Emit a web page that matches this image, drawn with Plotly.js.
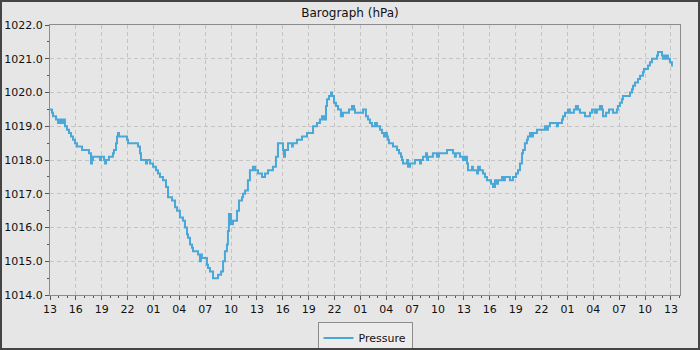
<!DOCTYPE html>
<html>
<head>
<meta charset="utf-8">
<script src="https://cdn.plot.ly/plotly-3.0.1.min.js"></script>
<style>
  html, body { margin: 0; padding: 0; background: #e6e6e6; }
  #frame { width: 700px; height: 350px; box-sizing: border-box; border: 2px solid #444444; background: #e6e6e6; }
  #chart { width: 696px; height: 346px; }
</style>
</head>
<body>
<div id="frame"><div id="chart"></div></div>
<script>
// Visible time window
const windowStart = '2024-01-01 13:00:00';
const windowEnd = '2024-01-04 14:03:00';

// Minutes after 2024-01-01 13:00 at which the reading changes
const minutes = [
  0, 14, 21, 42, 56, 70, 83, 90, 104, 118, 132, 146, 160, 174, 188, 223, 271, 285, 292, 299,
  348, 355, 376, 383, 390, 410, 438, 445, 459, 466, 473, 480, 536, 543, 612, 626, 633, 668, 675, 696,
  717, 737, 751, 765, 786, 807, 821, 849, 870, 884, 904, 925, 939, 953, 960, 974, 988, 995, 1030, 1043,
  1050, 1057, 1092, 1099, 1113, 1134, 1169, 1190, 1204, 1217, 1231, 1238, 1245, 1259, 1273, 1301, 1315, 1336, 1343, 1357,
  1377, 1391, 1412, 1426, 1447, 1475, 1496, 1517, 1551, 1572, 1586, 1621, 1628, 1635, 1656, 1684, 1690, 1718, 1753, 1788,
  1830, 1857, 1878, 1892, 1906, 1920, 1927, 1941, 1955, 1962, 1976, 1990, 2004, 2024, 2038, 2080, 2101, 2115, 2122, 2178,
  2198, 2212, 2226, 2240, 2261, 2275, 2296, 2310, 2324, 2338, 2344, 2351, 2358, 2386, 2414, 2428, 2442, 2449, 2456, 2484,
  2491, 2505, 2539, 2574, 2581, 2595, 2616, 2623, 2630, 2664, 2692, 2706, 2762, 2804, 2817, 2824, 2852, 2873, 2887, 2901,
  2908, 2936, 2943, 2971, 2978, 2991, 3012, 3026, 3040, 3068, 3082, 3096, 3110, 3117, 3145, 3151, 3165, 3200, 3221, 3242,
  3256, 3270, 3284, 3291, 3304, 3318, 3325, 3339, 3346, 3360, 3388, 3444, 3458, 3464, 3478, 3527, 3534, 3562, 3569, 3583,
  3604, 3617, 3645, 3659, 3673, 3687, 3722, 3757, 3771, 3791, 3805, 3826, 3840, 3847, 3868, 3889, 3917, 3944, 3951, 3965,
  3979, 3986, 4035, 4049, 4056, 4070, 4091, 4105, 4125, 4132, 4160, 4174, 4188, 4223, 4230, 4258, 4265, 4278, 4285, 4292,
  4299, 4313, 4327, 4334
];

// Pressure readings (hPa)
const pressure = [
  1019.5, 1019.4, 1019.3, 1019.2, 1019.1, 1019.2, 1019.1, 1019.2, 1019.0, 1018.9, 1018.8, 1018.7, 1018.6, 1018.5, 1018.4, 1018.3, 1018.2, 1017.9, 1018.0, 1018.1,
  1018.0, 1018.1, 1018.0, 1017.9, 1018.0, 1018.1, 1018.2, 1018.3, 1018.5, 1018.7, 1018.8, 1018.7, 1018.6, 1018.5, 1018.4, 1018.2, 1018.0, 1017.9, 1018.0, 1017.9,
  1017.8, 1017.7, 1017.6, 1017.5, 1017.4, 1017.2, 1016.9, 1016.8, 1016.6, 1016.5, 1016.3, 1016.2, 1016.0, 1015.8, 1015.7, 1015.5, 1015.4, 1015.3, 1015.2, 1015.0,
  1015.2, 1015.1, 1014.9, 1014.8, 1014.7, 1014.5, 1014.6, 1014.7, 1015.0, 1015.3, 1015.5, 1015.9, 1016.4, 1016.1, 1016.2, 1016.5, 1016.8, 1016.9, 1017.0, 1017.1,
  1017.4, 1017.7, 1017.8, 1017.7, 1017.6, 1017.5, 1017.6, 1017.7, 1017.8, 1018.1, 1018.5, 1018.3, 1018.1, 1018.3, 1018.5, 1018.4, 1018.5, 1018.6, 1018.7, 1018.8,
  1019.0, 1019.1, 1019.2, 1019.3, 1019.2, 1019.6, 1019.8, 1019.9, 1020.0, 1019.9, 1019.7, 1019.6, 1019.5, 1019.3, 1019.4, 1019.5, 1019.6, 1019.5, 1019.4, 1019.5,
  1019.3, 1019.2, 1019.1, 1019.0, 1019.1, 1019.0, 1018.9, 1018.8, 1018.7, 1018.8, 1018.7, 1018.6, 1018.5, 1018.4, 1018.3, 1018.2, 1018.1, 1018.0, 1017.9, 1018.0,
  1017.8, 1017.9, 1018.0, 1017.9, 1018.0, 1018.1, 1018.2, 1018.0, 1018.1, 1018.2, 1018.1, 1018.2, 1018.3, 1018.2, 1018.1, 1018.2, 1018.1, 1018.0, 1018.1, 1017.9,
  1017.7, 1017.8, 1017.7, 1017.6, 1017.8, 1017.7, 1017.6, 1017.5, 1017.4, 1017.3, 1017.2, 1017.4, 1017.3, 1017.4, 1017.5, 1017.4, 1017.5, 1017.4, 1017.5, 1017.6,
  1017.7, 1017.9, 1018.2, 1018.3, 1018.5, 1018.6, 1018.7, 1018.8, 1018.7, 1018.8, 1018.9, 1019.0, 1018.9, 1019.0, 1019.1, 1019.0, 1019.1, 1019.2, 1019.3, 1019.4,
  1019.5, 1019.4, 1019.5, 1019.6, 1019.5, 1019.4, 1019.3, 1019.4, 1019.5, 1019.4, 1019.5, 1019.6, 1019.5, 1019.3, 1019.4, 1019.5, 1019.4, 1019.5, 1019.6, 1019.7,
  1019.8, 1019.9, 1020.0, 1020.1, 1020.2, 1020.3, 1020.4, 1020.5, 1020.6, 1020.7, 1020.8, 1020.9, 1021.0, 1021.1, 1021.2, 1021.1, 1021.0, 1021.1, 1021.0, 1021.1,
  1021.0, 1020.9, 1020.8, 1020.8
];

const seriesName = 'Pressure';
const chartTitle = 'Barograph (hPa)';

// Convert minute offsets to date strings for the date axis
function pad(n) { return (n < 10 ? '0' : '') + n; }
function toDateString(offsetMin) {
  const base = Date.UTC(2024, 0, 1, 13, 0, 0);
  const d = new Date(base + offsetMin * 60000);
  return d.getUTCFullYear() + '-' + pad(d.getUTCMonth() + 1) + '-' + pad(d.getUTCDate()) + ' ' +
         pad(d.getUTCHours()) + ':' + pad(d.getUTCMinutes()) + ':00';
}
const times = minutes.map(toDateString);

const trace = {
  x: times,
  y: pressure,
  type: 'scatter',
  mode: 'lines',
  name: seriesName,
  line: { color: '#4aa8d8', width: 2, shape: 'hv' },
  showlegend: true
};

const axisFont = { family: 'DejaVu Sans, sans-serif', size: 11, color: '#111111' };

const layout = {
  width: 696,
  height: 346,
  paper_bgcolor: '#e6e6e6',
  plot_bgcolor: '#e6e6e6',
  margin: { l: 48, r: 18, t: 23, b: 53, autoexpand: false },
  title: {
    text: chartTitle,
    font: { family: 'DejaVu Sans, sans-serif', size: 12, color: '#111111' },
    x: 0.5, xanchor: 'center', y: 0.968, yanchor: 'middle'
  },
  xaxis: {
    type: 'date',
    range: [windowStart, windowEnd],
    tick0: windowStart,
    dtick: 3 * 3600000,
    tickformat: '%H',
    ticks: 'outside',
    ticklen: 4,
    tickcolor: '#555555',
    tickfont: axisFont,
    showline: true,
    linecolor: '#8c8c8c',
    linewidth: 1,
    mirror: true,
    showgrid: true,
    gridcolor: '#c4c4c4',
    gridwidth: 1,
    griddash: '4px,3px',
    zeroline: false,
    minor: { dtick: 3600000, ticks: 'outside', ticklen: 2, tickcolor: '#555555', showgrid: false }
  },
  yaxis: {
    range: [1014, 1022],
    dtick: 1,
    tickformat: '.1f',
    ticks: 'outside',
    ticklen: 4,
    tickcolor: '#555555',
    tickfont: axisFont,
    showline: true,
    linecolor: '#8c8c8c',
    linewidth: 1,
    mirror: true,
    showgrid: true,
    gridcolor: '#c4c4c4',
    gridwidth: 1,
    griddash: '4px,3px',
    zeroline: false,
    minor: { dtick: 0.5, ticks: 'outside', ticklen: 2, tickcolor: '#555555', showgrid: false }
  },
  showlegend: true,
  legend: {
    orientation: 'h',
    x: 0.5, xanchor: 'center',
    y: -0.159, yanchor: 'middle',
    bgcolor: '#ececec',
    bordercolor: '#8c8c8c',
    borderwidth: 1,
    font: { family: 'DejaVu Sans, sans-serif', size: 11, color: '#111111' },
    itemwidth: 30
  }
};

Plotly.newPlot('chart', [trace], layout, { displayModeBar: false, staticPlot: true });
</script>
</body>
</html>
